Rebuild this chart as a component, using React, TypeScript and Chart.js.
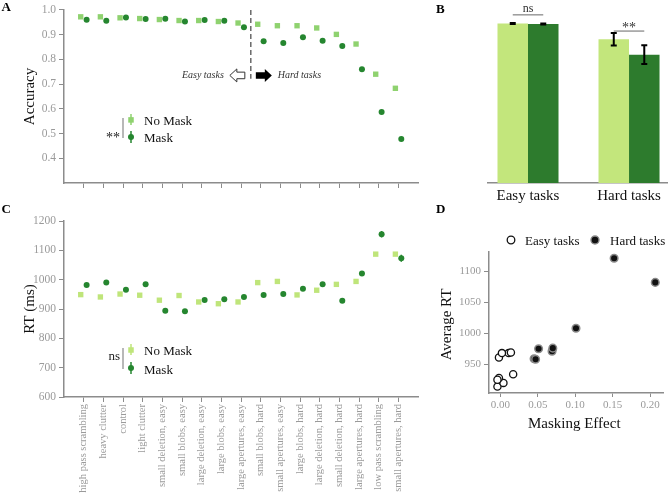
import React, { useEffect, useRef } from 'react';
import { Chart, registerables } from 'chart.js';

Chart.register(...registerables);

const W = 669;
const H = 493;
const SERIF = "'Liberation Serif', 'Times New Roman', serif";

// ---- per-task results ----
const tasks = [
  'high pass scrambling', 'heavy clutter', 'control', 'light clutter',
  'small deletion, easy', 'small blobs, easy', 'large deletion, easy', 'large blobs, easy',
  'large apertures, easy', 'small blobs, hard', 'small apertures, easy', 'large blobs, hard',
  'large deletion, hard', 'small deletion, hard', 'large apertures, hard', 'low pass scrambling',
  'small apertures, hard',
];
const easyCount = 9;

const accNoMask = [0.972, 0.972, 0.968, 0.965, 0.961, 0.957, 0.957, 0.953, 0.947, 0.942, 0.936, 0.936, 0.927, 0.901, 0.862, 0.740, 0.683];
const accMask = [0.960, 0.956, 0.969, 0.963, 0.964, 0.953, 0.959, 0.956, 0.930, 0.873, 0.866, 0.889, 0.875, 0.854, 0.760, 0.587, 0.478];
const accTicks = [0.4, 0.5, 0.6, 0.7, 0.8, 0.9, 1.0];

const rtNoMask = [949, 941, 951, 947, 930, 946, 924, 918, 924, 990, 994, 948, 964, 984, 994, 1087, 1087];
const rtMask = [982, 990, 966, 984, 894, 892, 931, 933, 941, 948, 951, 969, 984, 928, 1021, 1155, 1073];
const rtMaskErr = [4, 4, 4, 4, 4, 4, 4, 4, 4, 4, 4, 4, 4, 4, 5, 11, 12];
const rtTicks = [600, 700, 800, 900, 1000, 1100, 1200];

// ---- grouped accuracy ----
const groups = ['Easy tasks', 'Hard tasks'];
const groupAccNoMask = [0.961, 0.866];
const groupAccMask = [0.957, 0.773];
const groupErrNoMask = [0.003, 0.038];
const groupErrMask = [0.003, 0.057];
const groupSigLabels = ['ns', '**'];
const groupSigLevel = [1.013, 0.915];

// ---- masking effect vs. average RT ----
const easyMaskEffect = [0.011, 0.014, -0.002, 0.002, -0.004, 0.004, -0.002, -0.004, 0.017];
const easyAvgRt = [968, 969, 961, 968, 914, 920, 928, 925, 934];
const hardMaskEffect = [0.069, 0.070, 0.045, 0.051, 0.047, 0.101, 0.152, 0.207];
const hardAvgRt = [971, 976, 959, 975, 958, 1008, 1121, 1082];
const effectTicks = [0, 0.05, 0.1, 0.15, 0.2];
const avgRtTicks = [950, 1000, 1050, 1100];

// ---- colours ----
const LIGHT_A = '#8fd26f';
const LIGHT_C = '#bfe57a';
const LIGHT_B = '#c3e67c';
const DARK = '#25862f';
const DARK_BAR = '#2d7b2d';
const AXIS = '#8c8c8c';
const TICK_TXT = '#9a9a9a';

type Box = { left: number; top: number; right: number; bottom: number; yW: number; xH: number };

const boxA: Box = { left: 64, top: 7, right: 418, bottom: 183, yW: 64, xH: 10 };
const boxB: Box = { left: 488, top: 7, right: 667, bottom: 183, yW: 0, xH: 30 };
const boxC: Box = { left: 64, top: 221, right: 418, bottom: 397, yW: 64, xH: 96 };
const boxD: Box = { left: 489, top: 252, right: 668, bottom: 393, yW: 44, xH: 20 };

function layoutFor(b: Box) {
  return {
    padding: { left: b.left - b.yW, top: b.top, right: W - b.right, bottom: H - b.bottom - b.xH },
  };
}

const border = { display: true, color: AXIS, width: 1.5 };
const tickGrid = { display: true, drawOnChartArea: false, drawTicks: true, tickLength: 5, color: AXIS, lineWidth: 1 };

function taskAxis(b: Box, withLabels: boolean) {
  return {
    type: 'linear',
    min: -1,
    max: tasks.length,
    afterBuildTicks: (s: any) => { s.ticks = tasks.map((_, i) => ({ value: i })); },
    afterFit: (s: any) => { s.height = b.xH; },
    border,
    grid: tickGrid,
    ticks: withLabels
      ? {
          display: true, autoSkip: false, minRotation: 90, maxRotation: 90, padding: 2,
          color: TICK_TXT, font: { family: SERIF, size: 10.5 },
          callback: (_v: any, i: number) => tasks[i],
        }
      : { display: false },
  };
}

function valueAxis(b: Box, min: number, max: number, ticks: number[], digits: number, size: number) {
  return {
    type: 'linear',
    min,
    max,
    afterBuildTicks: (s: any) => { s.ticks = ticks.map((v) => ({ value: v })); },
    afterFit: (s: any) => { s.width = b.yW; },
    border,
    grid: tickGrid,
    ticks: {
      padding: 3, color: TICK_TXT, font: { family: SERIF, size },
      callback: (v: any) => Number(v).toFixed(digits),
    },
  };
}

const baseOptions = {
  responsive: false,
  animation: false as const,
  devicePixelRatio: 1,
  events: [] as any[],
  plugins: { legend: { display: false }, tooltip: { enabled: false } },
};

function letter(ctx: CanvasRenderingContext2D, t: string, x: number, y: number) {
  ctx.font = `bold 13px ${SERIF}`;
  ctx.fillStyle = '#000';
  ctx.textAlign = 'left';
  ctx.textBaseline = 'alphabetic';
  ctx.fillText(t, x, y);
}

function vTitle(ctx: CanvasRenderingContext2D, t: string, x: number, y: number, size: number) {
  ctx.save();
  ctx.translate(x, y);
  ctx.rotate(-Math.PI / 2);
  ctx.font = `${size}px ${SERIF}`;
  ctx.fillStyle = '#111';
  ctx.textAlign = 'center';
  ctx.textBaseline = 'middle';
  ctx.fillText(t, 0, 0);
  ctx.restore();
}

function vErr(ctx: CanvasRenderingContext2D, x: number, y0: number, y1: number, color: string, lw: number) {
  ctx.strokeStyle = color;
  ctx.lineWidth = lw;
  ctx.beginPath();
  ctx.moveTo(x, y0);
  ctx.lineTo(x, y1);
  ctx.stroke();
}

function square(ctx: CanvasRenderingContext2D, x: number, y: number, s: number, color: string) {
  ctx.fillStyle = color;
  ctx.fillRect(x - s / 2, y - s / 2, s, s);
}

function dot(ctx: CanvasRenderingContext2D, x: number, y: number, r: number, fill: string, stroke?: string, lw?: number) {
  ctx.beginPath();
  ctx.arc(x, y, r, 0, Math.PI * 2);
  ctx.fillStyle = fill;
  ctx.fill();
  if (stroke) {
    ctx.strokeStyle = stroke;
    ctx.lineWidth = lw || 1;
    ctx.stroke();
  }
}

// block arrow from tail x0 to tip x1
function blockArrow(ctx: CanvasRenderingContext2D, x0: number, x1: number, y: number, filled: boolean) {
  const dir = Math.sign(x1 - x0);
  const head = 7;
  const shaft = 3.3;
  const hh = 6.5;
  const xh = x1 - dir * head;
  ctx.beginPath();
  ctx.moveTo(x0, y - shaft);
  ctx.lineTo(xh, y - shaft);
  ctx.lineTo(xh, y - hh);
  ctx.lineTo(x1, y);
  ctx.lineTo(xh, y + hh);
  ctx.lineTo(xh, y + shaft);
  ctx.lineTo(x0, y + shaft);
  ctx.closePath();
  if (filled) {
    ctx.fillStyle = '#000';
    ctx.fill();
  } else {
    ctx.fillStyle = '#fff';
    ctx.fill();
    ctx.strokeStyle = '#333';
    ctx.lineWidth = 1;
    ctx.stroke();
  }
}

function markerLegend(
  ctx: CanvasRenderingContext2D, ca: any, sig: string, light: string,
  ySq: number, yDot: number, sigBaseline: number, sigSize: number,
) {
  const mx = ca.left + 67;
  // bracket
  ctx.strokeStyle = '#a0a0a0';
  ctx.lineWidth = 1.5;
  ctx.beginPath();
  ctx.moveTo(ca.left + 59, ySq - 2);
  ctx.lineTo(ca.left + 59, yDot + 1);
  ctx.stroke();
  ctx.font = `${sigSize}px ${SERIF}`;
  ctx.fillStyle = '#222';
  ctx.textAlign = 'right';
  ctx.textBaseline = 'alphabetic';
  ctx.fillText(sig, ca.left + 56, sigBaseline);
  // markers with error bars
  vErr(ctx, mx, ySq - 6, ySq + 5, light, 1.5);
  square(ctx, mx, ySq, 5.5, light);
  vErr(ctx, mx, yDot - 6, yDot + 6, DARK, 1.5);
  dot(ctx, mx, yDot, 3, DARK);
  ctx.font = `13px ${SERIF}`;
  ctx.fillStyle = '#111';
  ctx.textAlign = 'left';
  ctx.fillText('No Mask', ca.left + 80, ySq + 5);
  ctx.fillText('Mask', ca.left + 80, yDot + 5.5);
}

function pointSets(noMask: number[], mask: number[], light: string) {
  return [
    {
      label: 'No Mask',
      data: noMask.map((v, i) => ({ x: i - 0.15, y: v })),
      pointStyle: 'rect', pointRadius: 3.8, pointBorderWidth: 0,
      pointBackgroundColor: light, backgroundColor: light, borderColor: light, clip: false,
    },
    {
      label: 'Mask',
      data: mask.map((v, i) => ({ x: i + 0.15, y: v })),
      pointStyle: 'circle', pointRadius: 3, pointBorderWidth: 0,
      pointBackgroundColor: DARK, backgroundColor: DARK, borderColor: DARK, clip: false,
    },
  ];
}

function configA(): any {
  return {
    type: 'scatter',
    data: { datasets: pointSets(accNoMask, accMask, LIGHT_A) },
    options: {
      ...baseOptions,
      layout: layoutFor(boxA),
      scales: { x: taskAxis(boxA, false), y: valueAxis(boxA, 0.3, 1.0, accTicks, 1, 11.5) },
    },
    plugins: [{
      id: 'panelA',
      afterDraw(chart: any) {
        const { ctx, chartArea: ca, scales: { x, y } } = chart;
        ctx.save();
        letter(ctx, 'A', 1.5, 11);
        vTitle(ctx, 'Accuracy', 30, (ca.top + ca.bottom) / 2, 15);
        // easy / hard divider
        const xd = x.getPixelForValue(easyCount - 0.5);
        ctx.strokeStyle = '#444';
        ctx.lineWidth = 1.2;
        ctx.setLineDash([5, 3]);
        ctx.beginPath();
        ctx.moveTo(xd, y.getPixelForValue(1.0));
        ctx.lineTo(xd, y.getPixelForValue(0.722));
        ctx.stroke();
        ctx.setLineDash([]);
        const ya = y.getPixelForValue(0.735);
        blockArrow(ctx, xd - 6, xd - 21, ya, false);
        blockArrow(ctx, xd + 5, xd + 21, ya, true);
        ctx.font = `italic 10px ${SERIF}`;
        ctx.fillStyle = '#333';
        ctx.textBaseline = 'middle';
        ctx.textAlign = 'right';
        ctx.fillText('Easy tasks', xd - 27, ya);
        ctx.textAlign = 'left';
        ctx.fillText('Hard tasks', xd + 27, ya);
        markerLegend(ctx, ca, '**', LIGHT_A, ca.top + 110, ca.top + 127, ca.top + 132, 14);
        ctx.restore();
      },
    }],
  };
}

function configB(): any {
  const bar = { categoryPercentage: 0.604, barPercentage: 1, borderWidth: 0 };
  return {
    type: 'bar',
    data: {
      datasets: [
        { label: 'No Mask', data: groups.map((_, i) => ({ x: i, y: groupAccNoMask[i] })), backgroundColor: LIGHT_B, ...bar },
        { label: 'Mask', data: groups.map((_, i) => ({ x: i, y: groupAccMask[i] })), backgroundColor: DARK_BAR, ...bar },
      ],
    },
    options: {
      ...baseOptions,
      layout: layoutFor(boxB),
      scales: {
        x: {
          type: 'linear', offset: false, min: -0.396, max: 1.376,
          afterBuildTicks: (s: any) => { s.ticks = groups.map((_, i) => ({ value: i })); },
          afterFit: (s: any) => { s.height = boxB.xH; },
          border,
          grid: { display: true, drawOnChartArea: false, drawTicks: false },
          ticks: {
            padding: 4, maxRotation: 0, autoSkip: false, color: '#111',
            font: { family: SERIF, size: 15 },
            callback: (_v: any, i: number) => groups[i],
          },
        },
        y: { display: false, min: 0, max: 1.06 },
      },
    },
    plugins: [{
      id: 'panelB',
      afterDatasetsDraw(chart: any) {
        const { ctx, scales: { y } } = chart;
        ctx.save();
        letter(ctx, 'B', 436, 12.7);
        const sets: [number[], number[]][] = [[groupAccNoMask, groupErrNoMask], [groupAccMask, groupErrMask]];
        const centers: number[][] = [];
        sets.forEach(([vals, errs], d) => {
          const meta = chart.getDatasetMeta(d);
          centers[d] = [];
          meta.data.forEach((el: any, i: number) => {
            const cx = el.x;
            centers[d][i] = cx;
            const y0 = y.getPixelForValue(vals[i] - errs[i]);
            const y1 = y.getPixelForValue(vals[i] + errs[i]);
            ctx.strokeStyle = '#000';
            ctx.lineWidth = 2;
            ctx.beginPath();
            ctx.moveTo(cx, y0); ctx.lineTo(cx, y1);
            ctx.moveTo(cx - 3, y0); ctx.lineTo(cx + 3, y0);
            ctx.moveTo(cx - 3, y1); ctx.lineTo(cx + 3, y1);
            ctx.stroke();
          });
        });
        groups.forEach((_, i) => {
          const ys = y.getPixelForValue(groupSigLevel[i]);
          const x0 = centers[0][i];
          const x1 = centers[1][i];
          ctx.strokeStyle = '#9a9a9a';
          ctx.lineWidth = 1.5;
          ctx.beginPath();
          ctx.moveTo(x0, ys); ctx.lineTo(x1, ys);
          ctx.stroke();
          ctx.font = `${groupSigLabels[i] === 'ns' ? 12 : 14}px ${SERIF}`;
          ctx.fillStyle = '#333';
          ctx.textAlign = 'center';
          ctx.textBaseline = 'alphabetic';
          ctx.fillText(groupSigLabels[i], (x0 + x1) / 2, groupSigLabels[i] === 'ns' ? ys - 3 : ys + 0.5);
        });
        ctx.restore();
      },
    }],
  };
}

function configC(): any {
  return {
    type: 'scatter',
    data: { datasets: pointSets(rtNoMask, rtMask, LIGHT_C) },
    options: {
      ...baseOptions,
      layout: layoutFor(boxC),
      scales: { x: taskAxis(boxC, true), y: valueAxis(boxC, 600, 1200, rtTicks, 0, 11.5) },
    },
    plugins: [{
      id: 'panelC',
      beforeDatasetsDraw(chart: any) {
        const { ctx, scales: { x, y } } = chart;
        ctx.save();
        rtMask.forEach((v, i) => {
          vErr(ctx, x.getPixelForValue(i + 0.15), y.getPixelForValue(v - rtMaskErr[i]), y.getPixelForValue(v + rtMaskErr[i]), DARK, 1.5);
        });
        ctx.restore();
      },
      afterDraw(chart: any) {
        const { ctx, chartArea: ca } = chart;
        ctx.save();
        letter(ctx, 'C', 1.5, 212.7);
        vTitle(ctx, 'RT (ms)', 30, (ca.top + ca.bottom) / 2, 15);
        markerLegend(ctx, ca, 'ns', LIGHT_C, ca.top + 129, ca.top + 147, ca.top + 138.5, 13);
        ctx.restore();
      },
    }],
  };
}

function configD(): any {
  return {
    type: 'scatter',
    data: {
      datasets: [
        {
          label: 'Easy tasks',
          data: easyMaskEffect.map((v, i) => ({ x: v, y: easyAvgRt[i] })),
          pointStyle: 'circle', pointRadius: 3.6, pointBorderWidth: 1.3,
          pointBackgroundColor: '#fff', pointBorderColor: '#111', clip: false,
        },
        {
          label: 'Hard tasks',
          data: hardMaskEffect.map((v, i) => ({ x: v, y: hardAvgRt[i] })),
          pointStyle: 'circle', pointRadius: 3.8, pointBorderWidth: 1.5,
          pointBackgroundColor: '#111', pointBorderColor: '#8a8a8a', clip: false,
        },
      ],
    },
    options: {
      ...baseOptions,
      layout: layoutFor(boxD),
      scales: {
        x: {
          type: 'linear', min: -0.0153, max: 0.218,
          afterBuildTicks: (s: any) => { s.ticks = effectTicks.map((v) => ({ value: v })); },
          afterFit: (s: any) => { s.height = boxD.xH; },
          border,
          grid: { ...tickGrid, tickLength: 4 },
          ticks: { padding: 2, maxRotation: 0, color: TICK_TXT, font: { family: SERIF, size: 11 }, callback: (v: any) => Number(v).toFixed(2) },
        },
        y: valueAxis(boxD, 903.7, 1131, avgRtTicks, 0, 11),
      },
    },
    plugins: [{
      id: 'panelD',
      afterDraw(chart: any) {
        const { ctx, chartArea: ca } = chart;
        ctx.save();
        letter(ctx, 'D', 436, 213);
        vTitle(ctx, 'Average RT', 447, (ca.top + ca.bottom) / 2 + 2, 15);
        ctx.font = `15px ${SERIF}`;
        ctx.fillStyle = '#111';
        ctx.textAlign = 'center';
        ctx.textBaseline = 'middle';
        ctx.fillText('Masking Effect', (ca.left + ca.right) / 2 - 2, 424);
        // legend
        const ly = ca.top - 12;
        dot(ctx, ca.left + 22, ly, 3.8, '#fff', '#111', 1.3);
        dot(ctx, ca.left + 106, ly, 4, '#111', '#8a8a8a', 1.4);
        ctx.font = `13px ${SERIF}`;
        ctx.textAlign = 'left';
        ctx.textBaseline = 'alphabetic';
        ctx.fillText('Easy tasks', ca.left + 36, ly + 4.5);
        ctx.fillText('Hard tasks', ca.left + 121, ly + 4.5);
        ctx.restore();
      },
    }],
  };
}

export default function App() {
  const refA = useRef<HTMLCanvasElement>(null);
  const refB = useRef<HTMLCanvasElement>(null);
  const refC = useRef<HTMLCanvasElement>(null);
  const refD = useRef<HTMLCanvasElement>(null);

  useEffect(() => {
    const charts = [
      new Chart(refA.current!, configA()),
      new Chart(refB.current!, configB()),
      new Chart(refC.current!, configC()),
      new Chart(refD.current!, configD()),
    ];
    return () => charts.forEach((c) => c.destroy());
  }, []);

  const cv: React.CSSProperties = { position: 'absolute', left: 0, top: 0, width: W, height: H };
  return (
    <div style={{ position: 'fixed', left: 0, top: 0, width: W, height: H, background: '#fff', overflow: 'hidden' }}>
      <canvas ref={refA} width={W} height={H} style={cv} />
      <canvas ref={refB} width={W} height={H} style={cv} />
      <canvas ref={refC} width={W} height={H} style={cv} />
      <canvas ref={refD} width={W} height={H} style={cv} />
    </div>
  );
}
